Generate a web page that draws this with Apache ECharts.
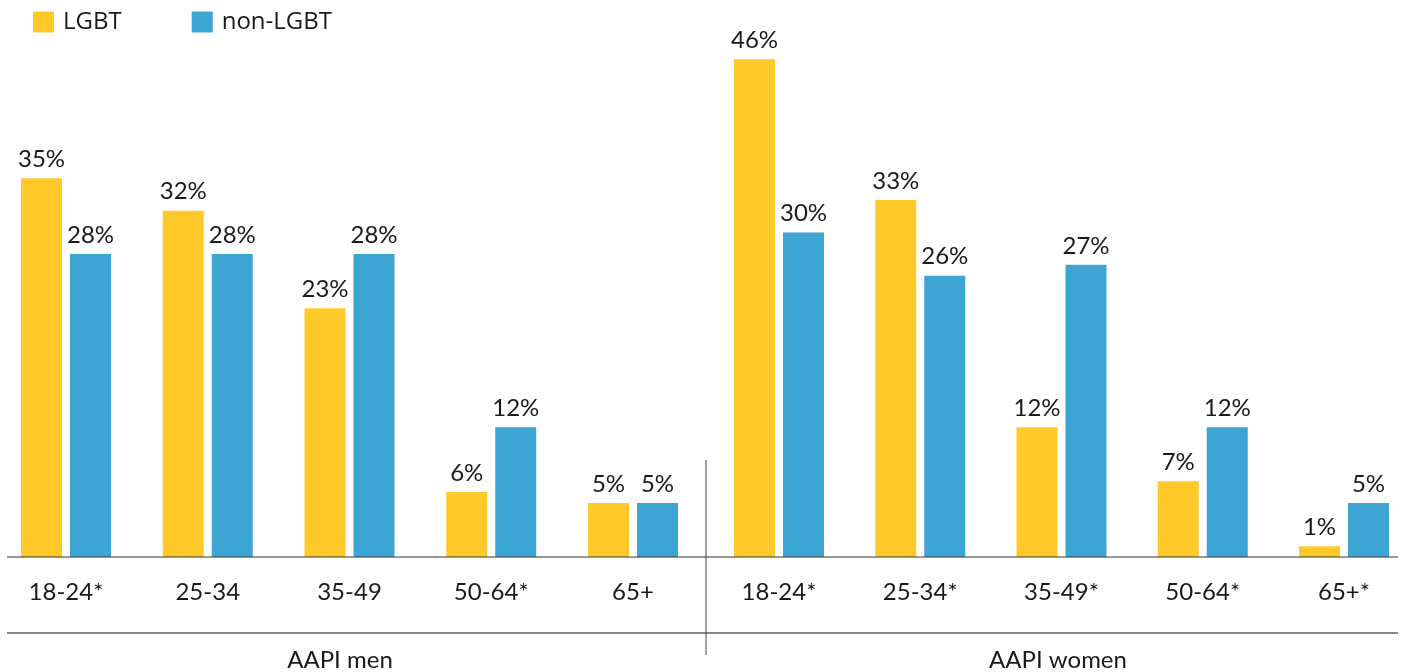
<!DOCTYPE html>
<html><head><meta charset="utf-8">
<script src="https://cdn.jsdelivr.net/npm/echarts@6/dist/echarts.min.js"></script>
<style>html,body{margin:0;padding:0;background:#fff}#c{width:1405px;height:672px}</style>
</head><body><div id="c"></div>
<script>
const menCategories = ['18-24*', '25-34', '35-49', '50-64*', '65+'];
const womenCategories = ['18-24*', '25-34*', '35-49*', '50-64*', '65+*'];
const groupLabels = ['AAPI men', 'AAPI women'];
const seriesNames = ['LGBT', 'non-LGBT'];
const lgbtMen = [35, 32, 23, 6, 5];
const nonLgbtMen = [28, 28, 28, 12, 5];
const lgbtWomen = [46, 33, 12, 7, 1];
const nonLgbtWomen = [30, 26, 27, 12, 5];

const YELLOW = '#FFC92A', BLUE = '#3DA5D4', TXT = '#1a1a1a';
const chart = echarts.init(document.getElementById('c'));
const labelCfg = { show: true, position: 'top', distance: 7, color: TXT, fontFamily: 'Lato', fontSize: 24, formatter: p => p.value + '%' };
function bar(name, color, data, idx) {
  return { name, type: 'bar', xAxisIndex: idx, yAxisIndex: idx, data, barWidth: 41, barGap: '19.5%', clip: false,
    itemStyle: { color }, label: labelCfg, emphasis: { disabled: true } };
}
const xAxisBase = (data, idx) => ({ type: 'category', gridIndex: idx, data, boundaryGap: false, axisLine: { show: false }, axisTick: { show: false },
  axisLabel: { color: TXT, fontFamily: 'Lato', fontSize: 24, margin: 23, interval: 0 } });
const yAxisBase = idx => ({ type: 'value', gridIndex: idx, min: 0, max: 50, show: false });
chart.setOption({
  animation: false,
  legend: { data: seriesNames, left: 33, top: 10, padding: 0, itemWidth: 21, itemHeight: 21, itemGap: 70, icon: 'rect',
    textStyle: { color: TXT, fontFamily: 'Open Sans', fontSize: 24, padding: [0, 0, 0, 4] } },
  grid: [ { left: 66, width: 567, top: 16, bottom: 115 }, { left: 779, width: 565, top: 16, bottom: 115 } ],
  xAxis: [ xAxisBase(menCategories, 0), xAxisBase(womenCategories, 1) ],
  yAxis: [ yAxisBase(0), yAxisBase(1) ],
  series: [ bar(seriesNames[0], YELLOW, lgbtMen, 0), bar(seriesNames[1], BLUE, nonLgbtMen, 0),
            bar(seriesNames[0], YELLOW, lgbtWomen, 1), bar(seriesNames[1], BLUE, nonLgbtWomen, 1) ],
  graphic: [
    { type: 'line', shape: { x1: 7, y1: 557, x2: 1398, y2: 557 }, style: { stroke: '#333', lineWidth: 1 }, z: 10 },
    { type: 'line', shape: { x1: 7, y1: 633, x2: 1398, y2: 633 }, style: { stroke: '#888', lineWidth: 2 } },
    { type: 'line', shape: { x1: 706, y1: 460, x2: 706, y2: 655 }, style: { stroke: '#444', lineWidth: 1 } },
    { type: 'text', style: { text: groupLabels[0], x: 340, y: 648, align: 'center', fill: TXT, font: '24px Lato' } },
    { type: 'text', style: { text: groupLabels[1], x: 1058, y: 648, align: 'center', fill: TXT, font: '24px Lato' } }
  ]
});
</script></body></html>
